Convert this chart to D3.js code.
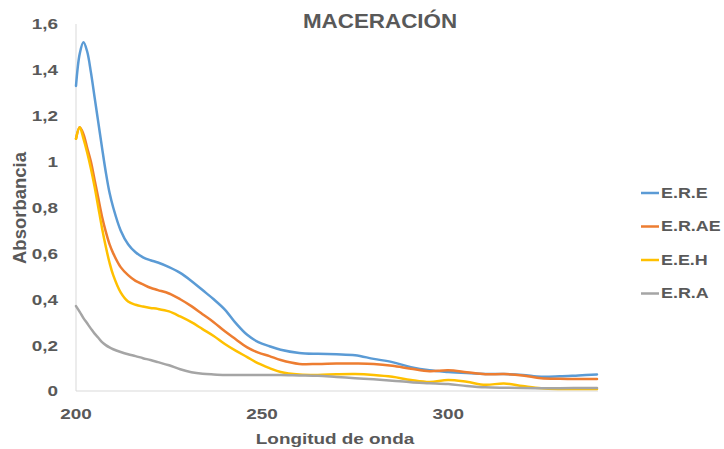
<!DOCTYPE html>
<html>
<head>
<meta charset="utf-8">
<script src="https://cdn.jsdelivr.net/npm/d3@7"></script>
<style>
  body { margin: 0; background: #fff; }
  svg text { font-family: "Liberation Sans", Arial, sans-serif; font-weight: bold; fill: #595959; }
</style>
</head>
<body>
<script>
// longitudes de onda (nm)
const wavelengths = [200, 201, 202, 203, 204, 205, 206, 207, 208, 209, 210, 212, 214, 216, 218, 220, 222, 225, 228, 231, 234, 237, 240, 243, 246, 249, 252, 255, 260, 265, 270, 275, 280, 285, 290, 295, 300, 305, 310, 315, 320, 325, 330, 335, 340];

const ere = [1.33, 1.47, 1.52, 1.48, 1.39, 1.28, 1.17, 1.06, 0.955, 0.865, 0.80, 0.70, 0.64, 0.605, 0.583, 0.57, 0.56, 0.54, 0.515, 0.48, 0.44, 0.40, 0.355, 0.295, 0.245, 0.213, 0.195, 0.18, 0.166, 0.162, 0.16, 0.156, 0.14, 0.126, 0.104, 0.09, 0.083, 0.078, 0.074, 0.074, 0.07, 0.062, 0.064, 0.068, 0.072];
const erae = [1.10, 1.15, 1.12, 1.06, 1.00, 0.92, 0.84, 0.76, 0.695, 0.64, 0.60, 0.54, 0.505, 0.48, 0.465, 0.45, 0.44, 0.425, 0.40, 0.37, 0.335, 0.30, 0.26, 0.225, 0.19, 0.167, 0.152, 0.135, 0.118, 0.118, 0.12, 0.12, 0.118, 0.11, 0.097, 0.086, 0.09, 0.082, 0.073, 0.074, 0.068, 0.056, 0.053, 0.052, 0.052];
const eeh = [1.10, 1.15, 1.10, 1.04, 0.97, 0.89, 0.80, 0.71, 0.63, 0.56, 0.505, 0.43, 0.39, 0.376, 0.368, 0.362, 0.358, 0.347, 0.325, 0.30, 0.27, 0.24, 0.205, 0.175, 0.148, 0.12, 0.10, 0.083, 0.072, 0.07, 0.073, 0.074, 0.07, 0.062, 0.048, 0.039, 0.048, 0.04, 0.027, 0.033, 0.022, 0.012, 0.009, 0.009, 0.009];
const era = [0.37, 0.345, 0.318, 0.295, 0.272, 0.25, 0.232, 0.213, 0.2, 0.19, 0.182, 0.17, 0.16, 0.152, 0.143, 0.135, 0.126, 0.112, 0.095, 0.082, 0.075, 0.072, 0.07, 0.07, 0.07, 0.07, 0.07, 0.07, 0.068, 0.066, 0.061, 0.056, 0.051, 0.045, 0.038, 0.034, 0.03, 0.022, 0.016, 0.014, 0.013, 0.012, 0.012, 0.013, 0.013];

const seriesNames = ["E.R.E", "E.R.AE", "E.E.H", "E.R.A"];
const seriesColors = ["#5B9BD5", "#ED7D31", "#FFC000", "#A5A5A5"];
const xTicks = [200, 250, 300];
const yTicks = [0, 0.2, 0.4, 0.6, 0.8, 1, 1.2, 1.4, 1.6];

const width = 724, height = 449;
const series = [ere, erae, eeh, era];
const stretch = 1.22; // el texto del original sale ensanchado

const svg = d3.select("body").append("svg")
    .attr("width", width)
    .attr("height", height);

const x = d3.scaleLinear().domain([200, 340]).range([76, 597]);
const y = d3.scaleLinear().domain([0, 1.6]).range([391, 24]);

// ejes (solo lineas grises)
svg.append("line")
    .attr("x1", x(200)).attr("x2", x(200))
    .attr("y1", y(1.6)).attr("y2", y(0))
    .attr("stroke", "#D9D9D9").attr("stroke-width", 1);
svg.append("line")
    .attr("x1", x(200)).attr("x2", x(340) + 1)
    .attr("y1", y(0)).attr("y2", y(0))
    .attr("stroke", "#D9D9D9").attr("stroke-width", 1);

const fmt = d => String(+d.toFixed(1)).replace(".", ",");

svg.append("g")
    .selectAll("text")
    .data(yTicks)
    .enter().append("text")
    .attr("transform", d => `translate(58,${y(d)}) scale(${stretch},1)`)
    .attr("dy", "0.35em")
    .attr("text-anchor", "end")
    .style("font-size", "15.5px")
    .text(fmt);

svg.append("g")
    .selectAll("text")
    .data(xTicks)
    .enter().append("text")
    .attr("transform", d => `translate(${x(d)},419) scale(${stretch},1)`)
    .attr("text-anchor", "middle")
    .style("font-size", "15.5px")
    .text(d => d);

// lineas
const line = d3.line()
    .x((d, i) => x(wavelengths[i]))
    .y(d => y(d))
    .curve(d3.curveCatmullRom.alpha(0.5));

svg.append("g")
    .selectAll("path")
    .data(series)
    .enter().append("path")
    .attr("d", line)
    .attr("fill", "none")
    .attr("stroke", (d, i) => seriesColors[i])
    .attr("stroke-width", 2.5)
    .attr("stroke-linejoin", "round")
    .attr("stroke-linecap", "round");

// titulo y etiquetas
svg.append("text")
    .attr("transform", "translate(380,28) scale(1.12,1)")
    .attr("text-anchor", "middle")
    .style("font-size", "20px")
    .text("MACERACIÓN");

svg.append("text")
    .attr("transform", "translate(26,208) rotate(-90)")
    .attr("text-anchor", "middle")
    .style("font-size", "18.5px")
    .text("Absorbancia");

svg.append("text")
    .attr("transform", `translate(335,444) scale(${stretch},1)`)
    .attr("text-anchor", "middle")
    .style("font-size", "15.5px")
    .text("Longitud de onda");

// leyenda
const legend = svg.append("g")
    .selectAll("g")
    .data(seriesNames)
    .enter().append("g")
    .attr("transform", (d, i) => `translate(641,${193 + i * 33.5})`);

legend.append("line")
    .attr("x1", 0).attr("x2", 18)
    .attr("stroke", (d, i) => seriesColors[i])
    .attr("stroke-width", 2.5);

legend.append("text")
    .attr("transform", "translate(20,0) scale(1.28,1)")
    .attr("dy", "0.35em")
    .style("font-size", "14px")
    .text(d => d);
</script>
</body>
</html>
